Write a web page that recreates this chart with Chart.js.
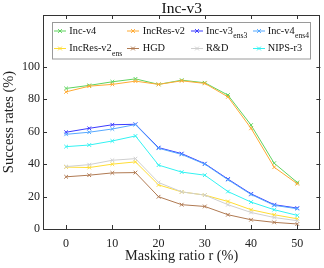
<!DOCTYPE html>
<html>
<head>
<meta charset="utf-8">
<script src="https://cdn.jsdelivr.net/npm/chart.js@4/dist/chart.umd.min.js"></script>
<style>
  html, body { margin: 0; padding: 0; background: #fff; }
  #wrap { width: 324px; height: 268px; }
</style>
</head>
<body>
<div id="wrap"><canvas id="chart" width="324" height="268"></canvas></div>
<script>
// masking ratio r (%)
const ratios = [0, 5, 10, 15, 20, 25, 30, 35, 40, 45, 50];
const xTicks = [0, 10, 20, 30, 40, 50];
const yTicks = [0, 20, 40, 60, 80, 100];

// success rates (%) per target model
const incV4 = [86.7, 88.6, 90.8, 92.6, 89.2, 91.8, 90.2, 82.6, 64.1, 40.6, 28.7];
const incResV2 = [84.6, 88.1, 89.2, 91.2, 89.2, 91.4, 89.8, 81.5, 62.1, 38.1, 27.9];
const incV3ens3 = [59.7, 62.1, 64.3, 64.6, 50.2, 46.5, 40.3, 30.8, 21.7, 15.0, 12.9];
const incV4ens4 = [58.4, 59.7, 61.7, 64.4, 49.8, 46.0, 40.0, 30.4, 21.3, 14.6, 12.5];
const incResV2ens = [38.2, 37.9, 40.0, 41.4, 27.2, 22.9, 20.9, 17.0, 11.9, 8.8, 6.3];
const hgd = [32.2, 33.2, 34.6, 34.8, 19.9, 15.0, 13.9, 8.8, 5.7, 4.1, 3.1];
const rd = [38.5, 39.7, 42.4, 43.4, 28.7, 22.9, 20.9, 15.0, 10.2, 7.1, 5.1];
const nipsR3 = [50.8, 51.8, 54.3, 57.4, 39.4, 35.1, 33.2, 23.1, 16.6, 11.9, 8.4];

// legend names: [main text, subscript]
const names = [
  ['Inc-v4', ''], ['IncRes-v2', ''], ['Inc-v3', 'ens3'], ['Inc-v4', 'ens4'],
  ['IncRes-v2', 'ens'], ['HGD', ''], ['R&D', ''], ['NIPS-r3', '']
];
const series = [incV4, incResV2, incV3ens3, incV4ens4, incResV2ens, hgd, rd, nipsR3];
const colors = ['#5fd35f', '#ffaa33', '#3b3bff', '#55a8ff', '#ffdd33', '#b07a52', '#cfcfcf', '#33f2f2'];

const serif = '"Liberation Serif", "DejaVu Serif", serif';

const datasets = series.map((vals, i) => ({
  label: names[i][0] + names[i][1],
  data: vals.map((v, j) => ({ x: ratios[j], y: v })),
  borderColor: colors[i],
  backgroundColor: colors[i],
  borderWidth: 1,
  pointStyle: 'crossRot',
  pointRadius: 2.6,
  pointBorderWidth: 1,
  pointHoverRadius: 2.6,
  tension: 0,
  order: series.length - 1 - i
}));

// box around plot + inward ticks on all four sides, title on top
const frame = {
  id: 'frame',
  afterDraw(chart) {
    const { ctx, chartArea: a, scales } = chart;
    ctx.save();
    ctx.strokeStyle = '#333';
    ctx.lineWidth = 1;
    ctx.strokeRect(Math.round(a.left) + 0.5, Math.round(a.top) + 0.5,
      Math.round(a.right - a.left) - 1, Math.round(a.bottom - a.top));
    ctx.beginPath();
    xTicks.forEach(t => {
      const x = Math.round(scales.x.getPixelForValue(t)) + 0.5;
      ctx.moveTo(x, a.bottom); ctx.lineTo(x, a.bottom - 4);
      ctx.moveTo(x, a.top); ctx.lineTo(x, a.top + 4);
    });
    yTicks.forEach(t => {
      const y = Math.round(scales.y.getPixelForValue(t)) + 0.5;
      ctx.moveTo(a.left, y); ctx.lineTo(a.left + 4, y);
      ctx.moveTo(a.right, y); ctx.lineTo(a.right - 4, y);
    });
    ctx.stroke();

    ctx.fillStyle = '#111';
    ctx.font = '15.5px ' + serif;
    ctx.textAlign = 'center';
    ctx.textBaseline = 'middle';
    ctx.fillText('Inc-v3', (a.left + a.right) / 2, 8.5);
    ctx.restore();
  }
};

// boxed 4-column legend with subscripts
const legendBox = {
  id: 'legendBox',
  afterDatasetsDraw(chart) {
    const ctx = chart.ctx;
    const lineX = [54, 127, 191, 253];
    const textX = [69.3, 142.7, 206, 267.7];
    const rowY = [31, 48.5];
    ctx.save();
    ctx.fillStyle = '#fff';
    ctx.fillRect(52, 22.5, 258, 36.5);
    ctx.strokeStyle = '#9a9a9a';
    ctx.lineWidth = 1;
    ctx.strokeRect(52.5, 22.5, 258, 36.5);
    names.forEach((n, i) => {
      const c = i % 4, r = Math.floor(i / 4);
      const y = rowY[r];
      ctx.strokeStyle = colors[i];
      ctx.beginPath();
      ctx.moveTo(lineX[c], y); ctx.lineTo(lineX[c] + 12, y);
      const cx = lineX[c] + 6, d = 1.9;
      ctx.moveTo(cx - d, y - d); ctx.lineTo(cx + d, y + d);
      ctx.moveTo(cx - d, y + d); ctx.lineTo(cx + d, y - d);
      ctx.stroke();
      ctx.fillStyle = '#111';
      ctx.textAlign = 'left';
      ctx.textBaseline = 'middle';
      ctx.font = '10.3px ' + serif;
      ctx.fillText(n[0], textX[c], y);
      if (n[1]) {
        const w = ctx.measureText(n[0]).width;
        ctx.font = '7.6px ' + serif;
        ctx.fillText(n[1], textX[c] + w + 0.5, y + 5);
      }
    });
    ctx.restore();
  }
};

new Chart(document.getElementById('chart'), {
  type: 'line',
  data: { datasets },
  options: {
    responsive: false,
    animation: false,
    events: [],
    layout: { padding: { top: 15, right: 2, left: 0, bottom: 0 } },
    plugins: { legend: { display: false }, tooltip: { enabled: false }, title: { display: false } },
    scales: {
      x: {
        type: 'linear',
        min: -5,
        max: 55,
        afterBuildTicks: s => { s.ticks = xTicks.map(v => ({ value: v })); },
        afterFit: s => { s.height = 39; },
        grid: { display: false, drawTicks: false },
        border: { display: false },
        ticks: { color: '#222', padding: 8, maxRotation: 0, font: { family: serif, size: 12 } },
        title: { display: true, text: 'Masking ratio r (%)', color: '#222', padding: { top: 0, bottom: 3 },
          font: { family: serif, size: 14.3 } }
      },
      y: {
        min: 0,
        max: 132,
        afterBuildTicks: s => { s.ticks = yTicks.map(v => ({ value: v })); },
        afterFit: s => { s.width = 43; },
        grid: { display: false, drawTicks: false },
        border: { display: false },
        ticks: { color: '#222', padding: 3, font: { family: serif, size: 12 } },
        title: { display: true, text: 'Success rates (%)', color: '#222', padding: { top: 0, bottom: 0 },
          font: { family: serif, size: 14.5 } }
      }
    }
  },
  plugins: [frame, legendBox]
});
</script>
</body>
</html>
